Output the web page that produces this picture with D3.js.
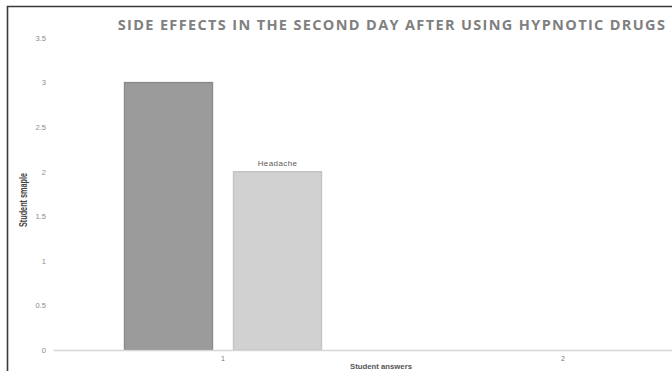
<!DOCTYPE html>
<html>
<head>
<meta charset="utf-8">
<script src="https://cdn.jsdelivr.net/npm/d3@7"></script>
<style>
  html, body { margin: 0; padding: 0; background: #fff; }
  svg { display: block; }
</style>
</head>
<body>
<svg id="chart" width="672" height="371"></svg>
<script>
// Chart data
const categories = ["1", "2"];
const seriesNames = ["Series1", "Headache"];
const series1Values = [3, 0];
const headacheValues = [2, 0];
const yTicks = [0, 0.5, 1, 1.5, 2, 2.5, 3, 3.5];
const titleText = "SIDE EFFECTS IN THE SECOND DAY AFTER USING HYPNOTIC DRUGS";
const yAxisTitle = "Student smaple";
const xAxisTitle = "Student answers";

const svg = d3.select("#chart");
const W = 672, H = 371;

// Plot area: the category axis runs past the right edge of the frame
const plot = { left: 53, right: 733, top: 38, bottom: 350 };

const x0 = d3.scaleBand().domain(categories).range([plot.left, plot.right]).paddingInner(0).paddingOuter(0);
const x1 = d3.scaleBand().domain(seriesNames).range([0, x0.bandwidth()]).paddingInner(0.193).paddingOuter(0.656);
const y = d3.scaleLinear().domain([0, 3.5]).range([plot.bottom, plot.top]);

const fills = { "Series1": "#9b9b9b", "Headache": "#d1d1d1" };
const strokes = { "Series1": "#8a8a8a", "Headache": "#c4c4c4" };

// Outer frame (top and left edges)
svg.append("path")
  .attr("d", `M7.5,${H} L7.5,6.5 L${W},6.5`)
  .attr("fill", "none").attr("stroke", "#3a3a3a").attr("stroke-width", 1.6);

// Title
svg.append("text")
  .attr("x", 392).attr("y", 30)
  .attr("text-anchor", "middle")
  .attr("font-family", "'Open Sans', sans-serif")
  .attr("font-weight", "bold")
  .attr("font-size", 14.5)
  .attr("letter-spacing", 1.35)
  .attr("fill", "#808080")
  .text(titleText);

// Y axis tick labels
const yAxis = d3.axisLeft(y).tickValues(yTicks).tickSize(0).tickPadding(0).tickFormat(d3.format("~g"));
const gy = svg.append("g").attr("transform", `translate(46,0)`).call(yAxis);
gy.select(".domain").remove();
gy.selectAll("text")
  .attr("font-family", "'Liberation Sans', sans-serif")
  .attr("font-size", 7.5)
  .attr("fill", "#8a8a8a");

// Bars
const rows = categories.map((c, i) => ({
  cat: c,
  values: [
    { key: "Series1", value: series1Values[i] },
    { key: "Headache", value: headacheValues[i] }
  ]
}));

const groups = svg.append("g").selectAll("g").data(rows).join("g")
  .attr("transform", d => `translate(${x0(d.cat)},0)`);

groups.selectAll("rect").data(d => d.values.filter(v => v.value > 0)).join("rect")
  .attr("x", d => x1(d.key))
  .attr("y", d => y(d.value))
  .attr("width", x1.bandwidth())
  .attr("height", d => y(0) - y(d.value))
  .attr("fill", d => fills[d.key])
  .attr("stroke", d => strokes[d.key])
  .attr("stroke-width", 1.4);

// Data label for the Headache series
groups.selectAll("text.lbl").data(d => d.values.filter(v => v.key === "Headache" && v.value > 0)).join("text")
  .attr("class", "lbl")
  .attr("x", d => x1(d.key) + x1.bandwidth() / 2)
  .attr("y", d => y(d.value) - 6)
  .attr("text-anchor", "middle")
  .attr("font-family", "'Liberation Sans', sans-serif")
  .attr("font-size", 8)
  .attr("letter-spacing", 0.4)
  .attr("fill", "#5a5a5a")
  .text(d => d.key);

// X axis line and category labels
const xAxis = d3.axisBottom(x0).tickSize(0).tickPadding(6);
const gx = svg.append("g").attr("transform", `translate(0,${plot.bottom})`).call(xAxis);
gx.select(".domain").attr("stroke", "#d6d6d6").attr("stroke-width", 1.6);
gx.selectAll("text")
  .attr("font-family", "'Liberation Sans', sans-serif")
  .attr("font-size", 7)
  .attr("fill", "#777");

// Axis titles
svg.append("text")
  .attr("transform", "translate(27,200) rotate(-90)")
  .attr("text-anchor", "middle")
  .attr("font-family", "'Liberation Sans', sans-serif")
  .attr("font-weight", "bold")
  .attr("font-size", 10)
  .attr("textLength", 54)
  .attr("lengthAdjust", "spacingAndGlyphs")
  .attr("fill", "#444")
  .text(yAxisTitle);

svg.append("text")
  .attr("x", 381).attr("y", 369)
  .attr("text-anchor", "middle")
  .attr("font-family", "'Liberation Sans', sans-serif")
  .attr("font-weight", "bold")
  .attr("font-size", 7.5)
  .attr("textLength", 62)
  .attr("lengthAdjust", "spacingAndGlyphs")
  .attr("fill", "#555")
  .text(xAxisTitle);
</script>
</body>
</html>
